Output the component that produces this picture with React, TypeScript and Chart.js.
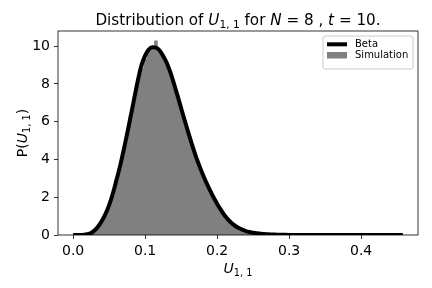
import { useEffect, useRef } from "react";
import { Chart, registerables } from "chart.js";

Chart.register(...registerables);

// bin centres / sample positions (shared by both series)
const gridX = [
  0, 0.005, 0.01, 0.015, 0.02, 0.025, 0.03, 0.035, 0.04, 0.045,
  0.05, 0.055, 0.06, 0.065, 0.07, 0.075, 0.08, 0.085, 0.09, 0.095,
  0.1, 0.105, 0.11, 0.115, 0.12, 0.125, 0.13, 0.135, 0.14, 0.145,
  0.15, 0.155, 0.16, 0.165, 0.17, 0.175, 0.18, 0.185, 0.19, 0.195,
  0.2, 0.205, 0.21, 0.215, 0.22, 0.225, 0.23, 0.235, 0.24, 0.245,
  0.25, 0.255, 0.26, 0.265, 0.27, 0.275, 0.28, 0.285, 0.29, 0.295, 0.3,
];

// Beta density curve
const betaY = [
  0, 0, 0, 0.01, 0.04, 0.11, 0.25, 0.46, 0.75, 1.12,
  1.58, 2.17, 2.88, 3.62, 4.45, 5.35, 6.3, 7.25, 8.2, 9.0,
  9.5, 9.82, 9.94, 9.92, 9.78, 9.48, 9.12, 8.62, 8.02, 7.38,
  6.72, 6.06, 5.42, 4.8, 4.22, 3.7, 3.22, 2.78, 2.38, 2.0,
  1.66, 1.34, 1.06, 0.83, 0.64, 0.49, 0.37, 0.28, 0.21, 0.16,
  0.12, 0.09, 0.07, 0.05, 0.04, 0.03, 0.02, 0.015, 0.01, 0.007, 0.005,
];
const betaTailX = [0.32, 0.36, 0.4, 0.458];
const betaTailY = [0.002, 0, 0, 0];

// Simulation histogram (density)
const histY = [
  0, 0, 0, 0.01, 0.04, 0.12, 0.26, 0.47, 0.76, 1.13,
  1.6, 2.18, 2.9, 3.64, 4.47, 5.37, 6.3, 7.26, 8.18, 8.82,
  9.35, 9.78, 9.95, 10.3, 9.8, 9.5, 9.12, 8.64, 8.02, 7.4,
  6.73, 6.07, 5.43, 4.8, 4.22, 3.7, 3.22, 2.79, 2.39, 2.0,
  1.66, 1.34, 1.06, 0.83, 0.64, 0.49, 0.37, 0.28, 0.21, 0.16,
  0.12, 0.09, 0.07, 0.05, 0.04, 0.03, 0.02, 0.015, 0.01, 0.007, 0.005,
];

const xTicks = [0, 0.1, 0.2, 0.3, 0.4];
const yTicks = [0, 2, 4, 6, 8, 10];
const legendLabels = ["Beta", "Simulation"];

type Seg = [string, "n" | "i" | "s"];
const titleSegs: Seg[] = [
  ["Distribution of ", "n"],
  ["U", "i"],
  ["1, 1", "s"],
  [" for ", "n"],
  ["N", "i"],
  [" = 8", "n"],
  [" , ", "n"],
  ["t", "i"],
  [" = 10", "n"],
  [".", "n"],
];
const xLabelSegs: Seg[] = [
  ["U", "i"],
  ["1, 1", "s"],
];
const yLabelSegs: Seg[] = [
  ["P(", "n"],
  ["U", "i"],
  ["1, 1", "s"],
  [")", "n"],
];

const FAM = "'DejaVu Sans', sans-serif";

function fontFor(kind: string, size: number) {
  if (kind === "i") return `italic ${size}px ${FAM}`;
  if (kind === "s") return `${size * 0.7}px ${FAM}`;
  return `${size}px ${FAM}`;
}

function drawRich(ctx: CanvasRenderingContext2D, segs: Seg[], size: number, cx: number, y: number) {
  let total = 0;
  const widths: number[] = [];
  for (const [t, k] of segs) {
    ctx.font = fontFor(k, size);
    const w = ctx.measureText(t).width;
    widths.push(w);
    total += w;
  }
  let x = cx - total / 2;
  ctx.textAlign = "left";
  ctx.textBaseline = "alphabetic";
  segs.forEach(([t, k], i) => {
    ctx.font = fontFor(k, size);
    ctx.fillText(t, x, y + (k === "s" ? size * 0.2 : 0));
    x += widths[i];
  });
}

const decor = {
  id: "decor",
  afterDraw(chart: any) {
    const ctx: CanvasRenderingContext2D = chart.ctx;
    const a = chart.chartArea;
    ctx.save();
    // axes frame
    ctx.strokeStyle = "#000";
    ctx.lineWidth = 0.8;
    ctx.strokeRect(a.left, a.top, a.right - a.left, a.bottom - a.top);

    // legend
    const lx = 323, ly = 36, lw = 90, lh = 33;
    ctx.beginPath();
    if ((ctx as any).roundRect) (ctx as any).roundRect(lx, ly, lw, lh, 2);
    else ctx.rect(lx, ly, lw, lh);
    ctx.fillStyle = "rgba(255,255,255,0.8)";
    ctx.fill();
    ctx.strokeStyle = "#cccccc";
    ctx.lineWidth = 1;
    ctx.stroke();

    ctx.strokeStyle = "#000";
    ctx.lineWidth = 4;
    ctx.beginPath();
    ctx.moveTo(327, 44.3);
    ctx.lineTo(347, 44.3);
    ctx.stroke();
    ctx.fillStyle = "#808080";
    ctx.fillRect(327, 52, 20, 6.5);

    ctx.fillStyle = "#000";
    ctx.font = `10px ${FAM}`;
    ctx.textAlign = "left";
    ctx.textBaseline = "middle";
    ctx.fillText(legendLabels[0], 355, 44.3);
    ctx.fillText(legendLabels[1], 355, 55.3);

    // title
    ctx.fillStyle = "#000";
    drawRich(ctx, titleSegs, 15.2, (a.left + a.right) / 2, 25);
    // x label
    drawRich(ctx, xLabelSegs, 14, (a.left + a.right) / 2, 273);
    // y label
    ctx.save();
    ctx.translate(27, (a.top + a.bottom) / 2);
    ctx.rotate(-Math.PI / 2);
    drawRich(ctx, yLabelSegs, 14, 0, 0);
    ctx.restore();

    ctx.restore();
  },
};

export default function App() {
  const ref = useRef<HTMLCanvasElement | null>(null);
  useEffect(() => {
    document.body.style.margin = "0";
    const canvas = ref.current;
    if (!canvas) return;
    const lineData = gridX
      .map((x, i) => ({ x, y: betaY[i] }))
      .concat(betaTailX.map((x, i) => ({ x, y: betaTailY[i] })));
    const histData = gridX.map((x, i) => ({ x, y: histY[i] }));
    const tickFont = { family: "'DejaVu Sans', sans-serif", size: 14 };
    const chart = new Chart(canvas, {
      type: "line",
      data: {
        datasets: [
          {
            label: legendLabels[0],
            data: lineData,
            borderColor: "#000",
            borderWidth: 4,
            pointRadius: 0,
            cubicInterpolationMode: "monotone",
            fill: false,
            clip: 0,
            borderJoinStyle: "round",
          } as any,
          {
            label: legendLabels[1],
            data: histData,
            stepped: "middle",
            fill: "origin",
            backgroundColor: "#808080",
            borderColor: "rgba(0,0,0,0)",
            borderWidth: 0,
            pointRadius: 0,
            clip: 0,
          } as any,
        ],
      },
      options: {
        animation: false,
        responsive: false,
        devicePixelRatio: 1,
        layout: { padding: { top: 31, right: 14, left: 0, bottom: 0 } },
        plugins: {
          legend: { display: false },
          title: { display: false },
          tooltip: { enabled: false },
        },
        scales: {
          x: {
            type: "linear",
            min: -0.021,
            max: 0.479,
            afterBuildTicks: (s: any) => {
              s.ticks = xTicks.map((v) => ({ value: v }));
            },
            afterFit: (s: any) => {
              s.height = 53;
            },
            grid: {
              display: true,
              drawOnChartArea: false,
              drawTicks: true,
              tickLength: 4,
              color: "#000",
              lineWidth: 0.8,
            },
            border: { display: false },
            ticks: {
              color: "#000",
              font: tickFont,
              padding: 4,
              maxRotation: 0,
              autoSkip: false,
              callback: (v: any) => Number(v).toFixed(1),
            },
          },
          y: {
            type: "linear",
            min: 0,
            max: 10.8,
            afterBuildTicks: (s: any) => {
              s.ticks = yTicks.map((v) => ({ value: v }));
            },
            afterFit: (s: any) => {
              s.width = 58;
            },
            grid: {
              display: true,
              drawOnChartArea: false,
              drawTicks: true,
              tickLength: 4,
              color: "#000",
              lineWidth: 0.8,
            },
            border: { display: false },
            ticks: {
              color: "#000",
              font: tickFont,
              padding: 4,
              autoSkip: false,
              callback: (v: any) => String(v),
            },
          },
        },
      },
      plugins: [decor],
    });
    return () => chart.destroy();
  }, []);
  return (
    <div style={{ width: 432, height: 288 }}>
      <canvas ref={ref} width={432} height={288} />
    </div>
  );
}
